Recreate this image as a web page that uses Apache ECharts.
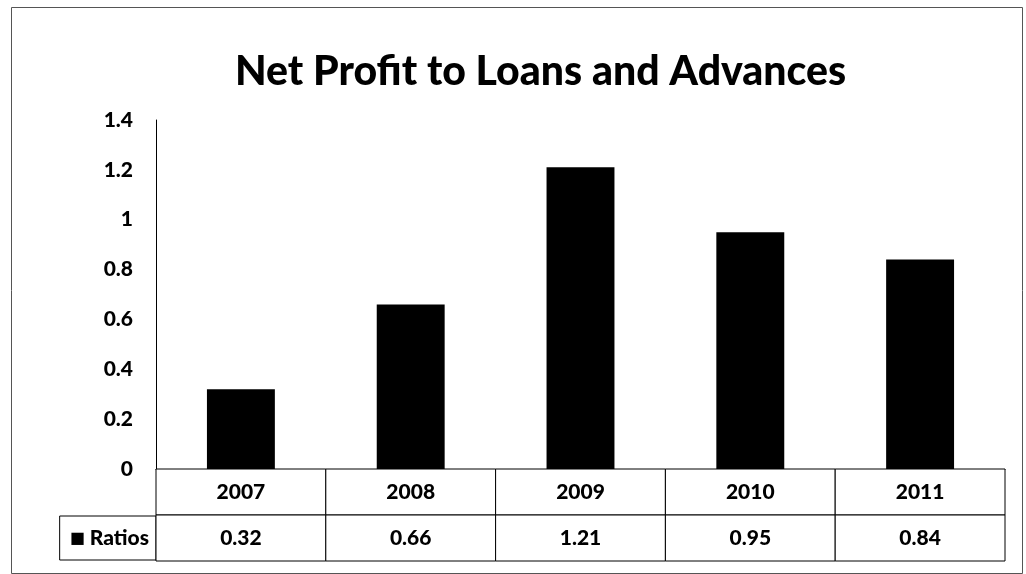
<!DOCTYPE html>
<html>
<head>
<meta charset="utf-8">
<script src="https://cdn.jsdelivr.net/npm/echarts@6/dist/echarts.min.js"></script>
<style>
  html, body { margin: 0; padding: 0; background: #fff; }
  #chart { width: 1026px; height: 574px; }
</style>
</head>
<body>
<div id="chart"></div>
<script>
// Chart data
const title = 'Net Profit to Loans and Advances';
const years = ['2007', '2008', '2009', '2010', '2011'];
const ratios = [0.32, 0.66, 1.21, 0.95, 0.84];
const seriesName = 'Ratios';
const yTicks = { min: 0, max: 1.4, interval: 0.2 };

const FONT = 'Lato, "Open Sans", "DejaVu Sans", sans-serif';

// Data table rows: header row (years) and value row (ratios)
const tableRows = ['head', seriesName];
const tableCells = [];
years.forEach((y, i) => {
  tableCells.push({ value: [i, 0], text: y });
  tableCells.push({ value: [i, 1], text: ratios[i].toFixed(2) });
});

const chart = echarts.init(document.getElementById('chart'), null, { renderer: 'canvas' });

chart.setOption({
  backgroundColor: '#fff',
  animation: false,
  title: {
    text: title,
    left: 230,
    top: 46,
    textStyle: { fontFamily: FONT, fontWeight: 900, fontSize: 41, color: '#000' }
  },
  graphic: [{
    type: 'rect',
    left: 9, top: 5,
    shape: { width: 1011, height: 566 },
    style: { fill: null, stroke: '#555', lineWidth: 1 },
    silent: true
  }],
  grid: [
    { left: 156, right: 21, top: 120, bottom: 105 },
    { left: 156, right: 21, top: 469, height: 92 }
  ],
  xAxis: [
    {
      type: 'category', gridIndex: 0, data: years,
      axisLine: { show: true, lineStyle: { color: '#000', width: 1 } },
      axisTick: { show: false },
      axisLabel: { show: false }
    },
    {
      type: 'category', gridIndex: 1, data: years,
      axisLine: { show: false }, axisTick: { show: false }, axisLabel: { show: false }
    }
  ],
  yAxis: [
    {
      type: 'value', gridIndex: 0,
      min: yTicks.min, max: yTicks.max, interval: yTicks.interval,
      axisLine: { show: true, lineStyle: { color: '#000', width: 1 } },
      axisTick: { show: false },
      splitLine: { show: false },
      axisLabel: {
        margin: 23, color: '#000',
        fontFamily: FONT, fontWeight: 900, fontSize: 21,
        formatter: v => String(Math.round(v * 10) / 10)
      }
    },
    {
      type: 'category', gridIndex: 1, data: tableRows, inverse: true,
      axisLine: { show: false }, axisTick: { show: false }, splitLine: { show: false },
      axisLabel: {
        interval: (i, v) => v === seriesName,
        margin: 0,
        color: '#000', fontFamily: FONT, fontWeight: 900, fontSize: 21,
        borderColor: '#000', borderWidth: 1,
        padding: [12, 7, 11, 10],
        formatter: v => '{k|\u25A0} ' + v,
        rich: { k: { fontSize: 16, color: '#000', fontFamily: 'DejaVu Sans' } }
      }
    }
  ],
  series: [
    {
      name: seriesName,
      type: 'bar',
      xAxisIndex: 0, yAxisIndex: 0,
      data: ratios,
      barWidth: '40%',
      itemStyle: { color: '#000' }
    },
    {
      type: 'custom',
      xAxisIndex: 1, yAxisIndex: 1,
      data: tableCells,
      silent: true,
      renderItem: (params, api) => {
        const c = api.coord([api.value(0), api.value(1)]);
        const s = api.size([1, 1]);
        const cell = tableCells[params.dataIndex];
        return {
          type: 'group',
          children: [
            {
              type: 'rect',
              shape: { x: c[0] - s[0] / 2, y: c[1] - s[1] / 2, width: s[0], height: s[1] },
              style: { fill: '#fff', stroke: '#000', lineWidth: 1 }
            },
            {
              type: 'text',
              style: {
                text: cell.text, x: c[0], y: c[1],
                align: 'center', verticalAlign: 'middle',
                fill: '#000', font: '900 21px ' + FONT
              }
            }
          ]
        };
      }
    }
  ]
});
</script>
</body>
</html>
